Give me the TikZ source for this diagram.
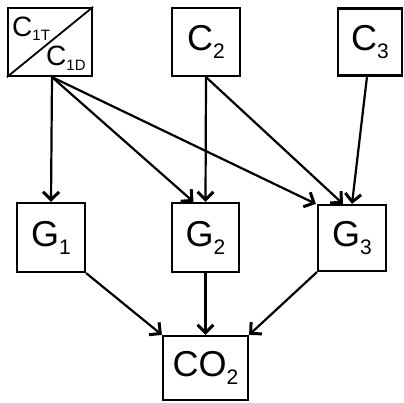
\documentclass[tikz,border=0pt]{standalone}
\usepackage{fontspec}
\setmainfont{Liberation Sans}
\usetikzlibrary{arrows.meta}

% label with a lowered subscript: main size, sub size, drop, base, index
\newcommand\sublbl[5]{{\fontsize{#1}{#1}\selectfont #4}{\fontsize{#2}{#2}\selectfont\raisebox{-#3}{#5}}}

\begin{document}
\begin{tikzpicture}[x=1pt,y=-1pt,
  box/.style={draw, line width=2.2pt, inner sep=0pt, fill=white},
  link/.style={line width=2.2pt, -{Straight Barb[length=8pt,width=16pt,line width=3pt]}}]
  \useasboundingbox (0,0) rectangle (404,402);

  % top row
  \node[box, minimum width=84pt, minimum height=68pt] (C1) at (50,42) {};
  \draw[line width=1.8pt] (C1.south west) -- (C1.north east);
  \node[anchor=base west, inner sep=0pt] (C1T) at (12,36) {\sublbl{28}{15}{4pt}{C}{1T}};
  \node[anchor=base west, inner sep=0pt] (C1D) at (46,65) {\sublbl{28}{15}{5pt}{C}{1D}};
  \node[box, minimum width=68pt, minimum height=68pt] (C2) at (206,42) {\sublbl{36}{21}{8pt}{C}{2}};
  \node[box, minimum width=64pt, minimum height=67pt] (C3) at (370,42) {\sublbl{36}{21}{8pt}{C}{3}};

  % middle row
  \node[box, minimum width=68pt, minimum height=69pt] (G1) at (51,237.5) {\sublbl{36}{21}{8pt}{G}{1}};
  \node[box, minimum width=67pt, minimum height=69pt] (G2) at (205.5,237.5) {\sublbl{36}{21}{8pt}{G}{2}};
  \node[box, minimum width=68pt, minimum height=66pt] (G3) at (352,238) {\sublbl{36}{21}{8pt}{G}{3}};

  % bottom
  \node[box, minimum width=85pt, minimum height=64pt] (CO2) at (205.5,368) {\sublbl{36}{21}{8pt}{CO}{2}};

  % connectors
  \draw[link] ([xshift=2pt]C1.south) -- (G1.north);
  \draw[link] ([xshift=2pt]C1.south) -- ([xshift=-12pt]G2.north);
  \draw[link] ([xshift=2pt]C1.south) -- ([xshift=-1pt]G3.north west);
  \draw[link] (C2.south) -- (G2.north);
  \draw[link] (C2.south) -- ([xshift=-9pt]G3.north);
  \draw[link] ([xshift=-3pt]C3.south) -- (G3.north);
  \draw[link] (G1.south east) -- (CO2.north west);
  \draw[link] (G2.south) -- (CO2.north);
  \draw[link] (G3.south west) -- (CO2.north east);
\end{tikzpicture}
\end{document}
